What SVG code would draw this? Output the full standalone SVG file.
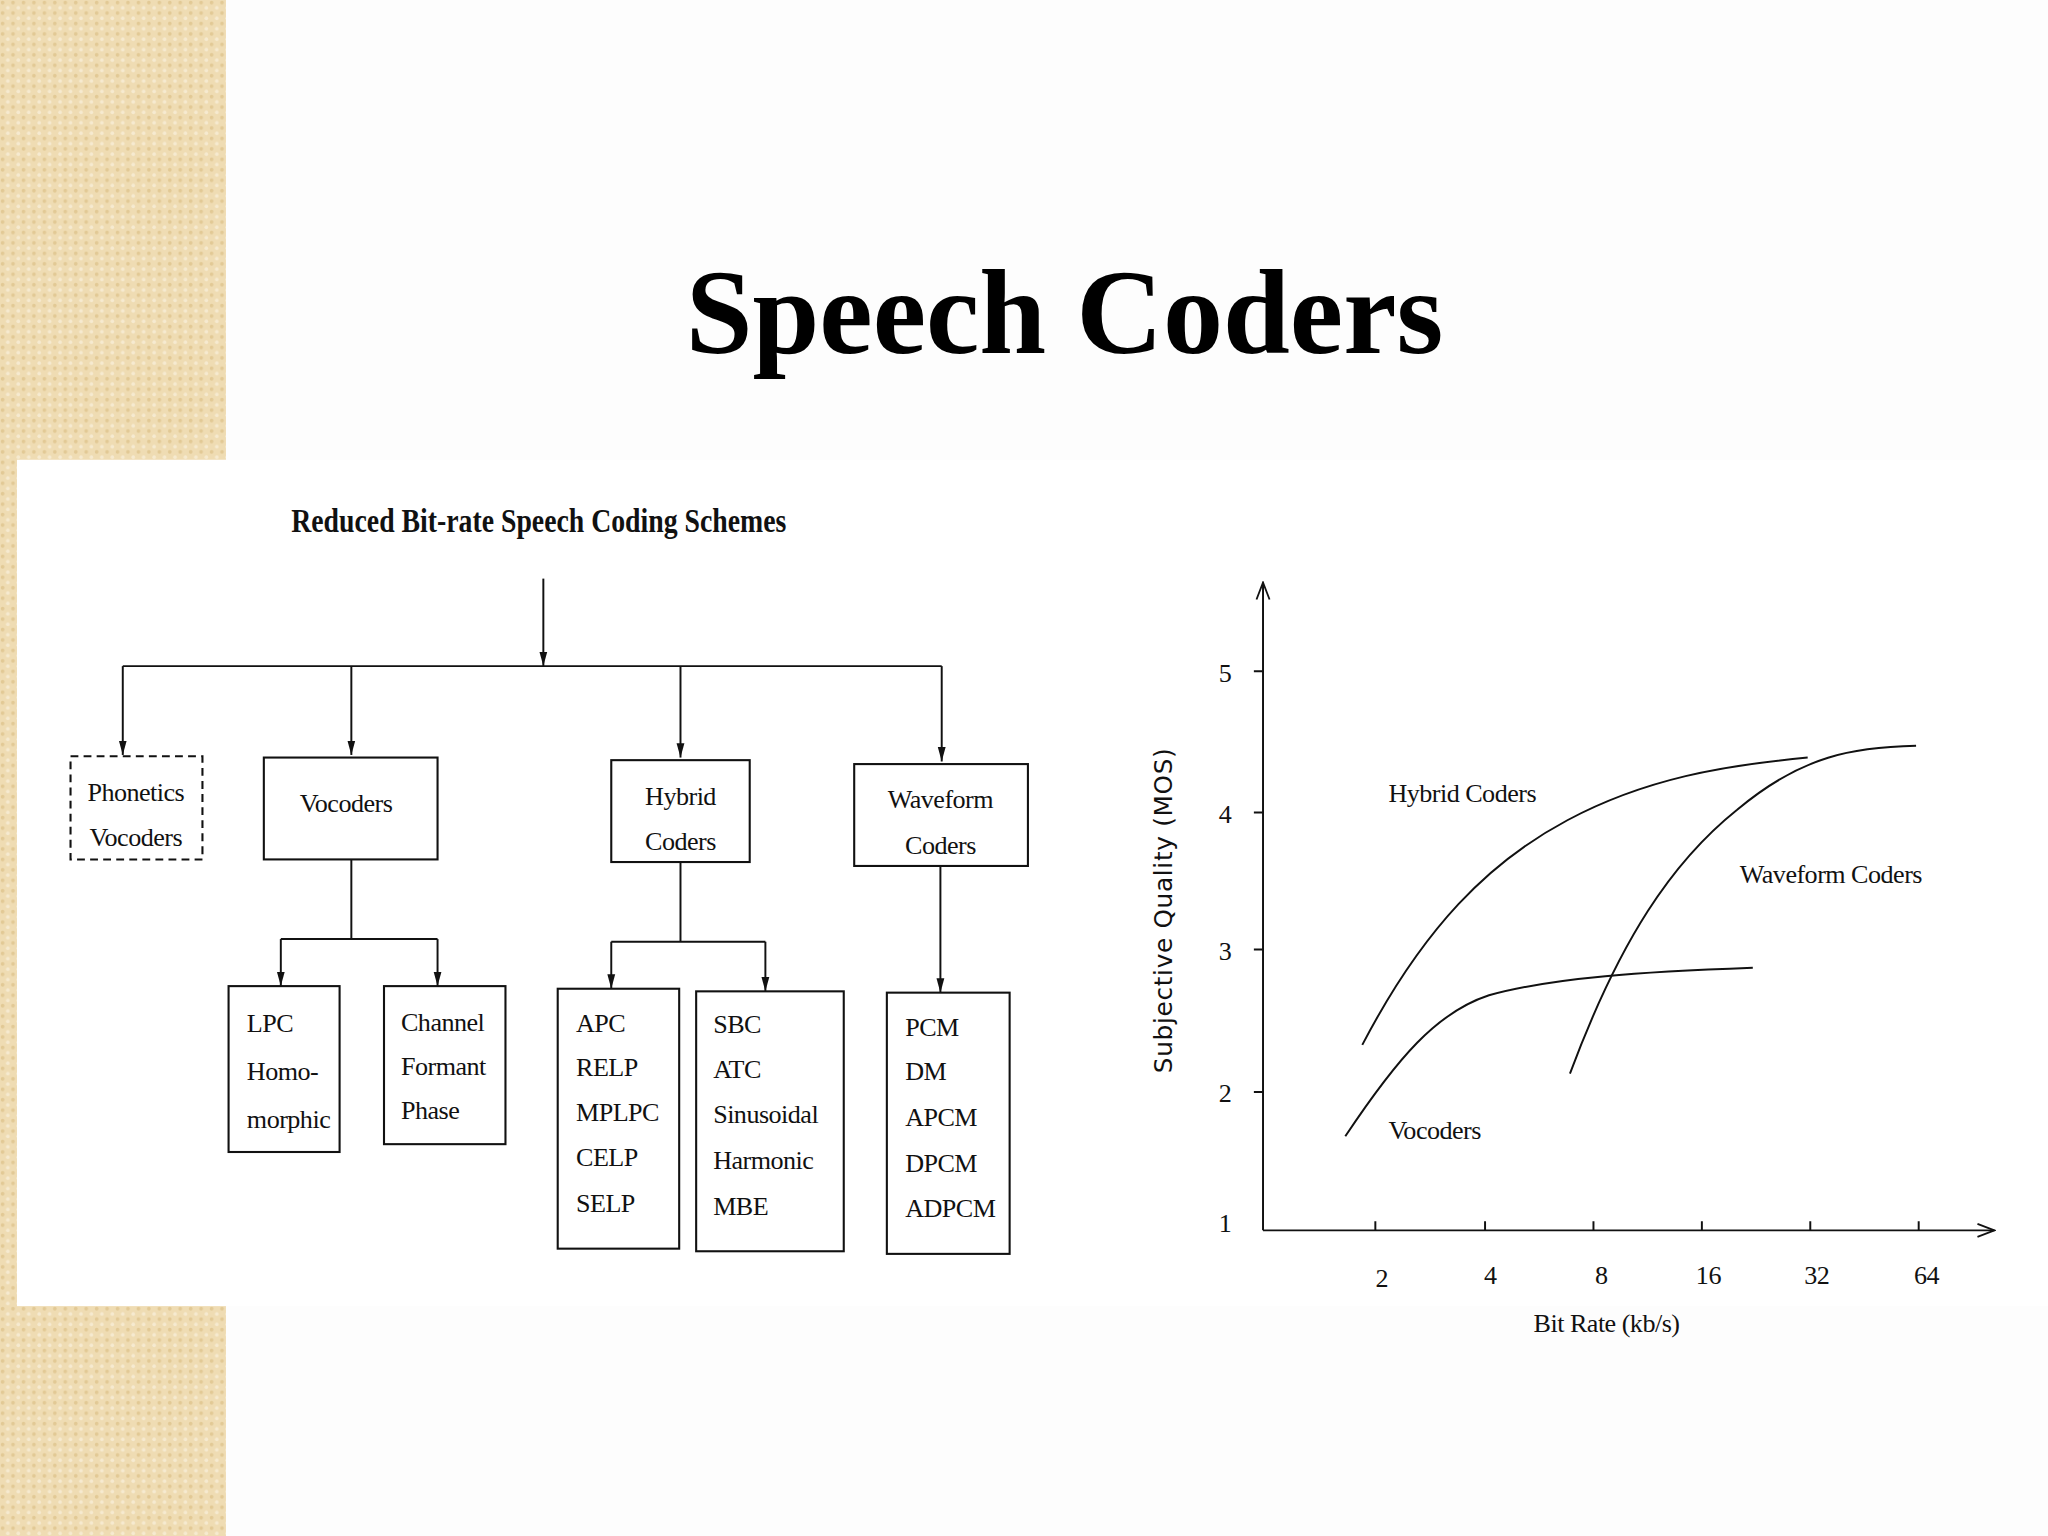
<svg xmlns="http://www.w3.org/2000/svg" width="2048" height="1536" viewBox="0 0 2048 1536">
<defs>
<style>
.t{font-family:"Liberation Serif",serif;font-size:20px;fill:#111;letter-spacing:-0.4px}
.b{fill:none;stroke:#111;stroke-width:1.6}
.l{fill:none;stroke:#111;stroke-width:1.5}
</style>
<marker id="a" markerWidth="14" markerHeight="12" refX="13" refY="6" orient="auto" markerUnits="userSpaceOnUse" viewBox="0 0 14 12"><path d="M0,1 L13,6 L0,11" fill="none" stroke="#111" stroke-width="1.4"/></marker>
<marker id="d" markerWidth="12" markerHeight="10" refX="11" refY="5" orient="auto" markerUnits="userSpaceOnUse" viewBox="0 0 12 10"><path d="M0,2 L11,5 L0,8 Z" fill="#111"/></marker>
<pattern id="p" width="8" height="8" patternUnits="userSpaceOnUse"><rect width="8" height="8" fill="#efdcb3"/><circle cx="2" cy="2" r="1.4" fill="#e2c995"/><circle cx="6" cy="6" r="1.4" fill="#f6ead0"/></pattern>
</defs>
<rect width="2048" height="1536" fill="#fdfdfd"/>
<g transform="scale(1.30612)">
<rect x="0" y="0" width="173" height="1176" fill="url(#p)"/>
<rect x="13" y="352" width="1555" height="648" fill="#fff"/>
<text x="815" y="270" text-anchor="middle" style="font-family:'Liberation Serif',serif;font-weight:bold;font-size:92px" fill="#000">Speech Coders</text>
<text x="223" y="407" textLength="379" lengthAdjust="spacingAndGlyphs" style="font-family:'Liberation Serif',serif;font-weight:bold;font-size:25px" fill="#111">Reduced Bit-rate Speech Coding Schemes</text>
<g id="connectors" class="l">
<path d="M416,443 V510" marker-end="url(#d)"/>
<path d="M94,510 H721"/>
<path d="M94,510 V578" marker-end="url(#d)"/>
<path d="M269,510 V578" marker-end="url(#d)"/>
<path d="M521,510 V580" marker-end="url(#d)"/>
<path d="M721,510 V583" marker-end="url(#d)"/>
<path d="M269,658 V719 M215,719 H335"/>
<path d="M215,719 V755" marker-end="url(#d)"/>
<path d="M335,719 V755" marker-end="url(#d)"/>
<path d="M521,660 V721 M468,721 H586"/>
<path d="M468,721 V757" marker-end="url(#d)"/>
<path d="M586,721 V759" marker-end="url(#d)"/>
<path d="M720,663 V760" marker-end="url(#d)"/>
</g>
<g id="phonetics"><rect x="54" y="579" width="101" height="79" class="b" stroke-dasharray="6,4"/><text class="t" x="104" y="613" text-anchor="middle">Phonetics</text><text class="t" x="104" y="648" text-anchor="middle">Vocoders</text></g>
<g id="vocoders"><rect x="202" y="580" width="133" height="78" class="b"/><text class="t" x="265" y="622" text-anchor="middle">Vocoders</text></g>
<g id="hybrid"><rect x="468" y="582" width="106" height="78" class="b"/><text class="t" x="521" y="616" text-anchor="middle">Hybrid</text><text class="t" x="521" y="651" text-anchor="middle">Coders</text></g>
<g id="waveform"><rect x="654" y="585" width="133" height="78" class="b"/><text class="t" x="720" y="619" text-anchor="middle">Waveform</text><text class="t" x="720" y="654" text-anchor="middle">Coders</text></g>
<g id="lpc"><rect x="175" y="755" width="85" height="127" class="b"/><text class="t" x="189" y="790">LPC</text><text class="t" x="189" y="827">Homo-</text><text class="t" x="189" y="864">morphic</text></g>
<g id="channel"><rect x="294" y="755" width="93" height="121" class="b"/><text class="t" x="307" y="789">Channel</text><text class="t" x="307" y="823">Formant</text><text class="t" x="307" y="857">Phase</text></g>
<g id="apc"><rect x="427" y="757" width="93" height="199" class="b"/><text class="t" x="441" y="790">APC</text><text class="t" x="441" y="824">RELP</text><text class="t" x="441" y="858">MPLPC</text><text class="t" x="441" y="893">CELP</text><text class="t" x="441" y="928">SELP</text></g>
<g id="sbc"><rect x="533" y="759" width="113" height="199" class="b"/><text class="t" x="546" y="791">SBC</text><text class="t" x="546" y="825">ATC</text><text class="t" x="546" y="860">Sinusoidal</text><text class="t" x="546" y="895">Harmonic</text><text class="t" x="546" y="930">MBE</text></g>
<g id="pcm"><rect x="679" y="760" width="94" height="200" class="b"/><text class="t" x="693" y="793">PCM</text><text class="t" x="693" y="827">DM</text><text class="t" x="693" y="862">APCM</text><text class="t" x="693" y="897">DPCM</text><text class="t" x="693" y="932">ADPCM</text></g>
<g id="chart">
<path class="l" d="M967,942 V446" marker-end="url(#a)"/>
<path class="l" d="M967,942 H1527" marker-end="url(#a)"/>
<path class="l" d="M960,514 H967 M960,622 H967 M960,727 H967 M960,836 H967 M1053,942 V935 M1137,942 V935 M1220,942 V935 M1303,942 V935 M1386,942 V935 M1469,942 V935"/>
<g class="t"><text x="938" y="522" text-anchor="middle">5</text><text x="938" y="630" text-anchor="middle">4</text><text x="938" y="735" text-anchor="middle">3</text><text x="938" y="844" text-anchor="middle">2</text><text x="938" y="943" text-anchor="middle">1</text>
<text x="1058" y="985" text-anchor="middle">2</text><text x="1141" y="983" text-anchor="middle">4</text><text x="1226" y="983" text-anchor="middle">8</text><text x="1308" y="983" text-anchor="middle">16</text><text x="1391" y="983" text-anchor="middle">32</text><text x="1475" y="983" text-anchor="middle">64</text>
<text x="1230" y="1020" text-anchor="middle">Bit Rate (kb/s)</text>
<text x="1063" y="614">Hybrid Coders</text><text x="1332" y="676">Waveform Coders</text><text x="1063" y="872">Vocoders</text></g>
<text transform="translate(897,697) rotate(-90)" text-anchor="middle" style="font-family:'DejaVu Sans',sans-serif;font-size:19px;letter-spacing:0.5px" fill="#111">Subjective Quality (MOS)</text>
<path class="l" d="M1043,800 C1090,710 1140,660 1200,628 C1260,596 1320,586 1384,580"/>
<path class="l" d="M1202,822 C1240,720 1280,660 1330,620 C1380,578 1420,572 1467,571"/>
<path class="l" d="M1030,870 C1070,810 1100,775 1140,762 C1190,748 1260,744 1342,741"/>
</g>
</g>
</svg>
